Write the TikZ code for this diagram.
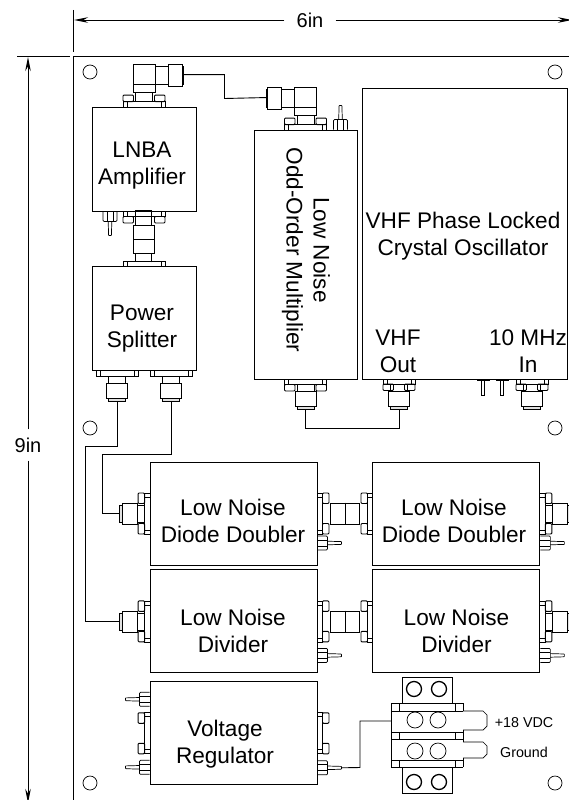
\documentclass[tikz,border=0pt]{standalone}
\usepackage{fontspec}
\setmainfont{Liberation Sans}
\usetikzlibrary{positioning,calc,arrows.meta}
\tikzstyle{part} = [line width=0.7pt]
\tikzstyle{wire} = [line width=0.9pt]
\tikzstyle{dimline} = [line width=0.9pt,-{Stealth[length=14pt,width=5.5pt]}]
\tikzset{
  pics/flange/.style={code={
    \draw[part] ({-#1},0) -- ({-#1},-5) -- ({#1},-5) -- ({#1},0);
    \draw[part] ({-#1+4},0) -- ({-#1+4},-5) ({#1-4},0) -- ({#1-4},-5);
  }},
  pics/bolts/.style={code={
    \draw[part,rounded corners=1pt,line width=0.9pt] ({-#1},-5) rectangle ({-#1+10.5},-11.5);
    \draw[part,rounded corners=1pt,line width=0.9pt] ({#1},-5) rectangle ({#1-10.5},-11.5);
  }},
  pics/sma/.style={code={
    \draw[part] (-8.5,-5) rectangle (8.5,-12);
    \draw[part] (-10.5,-12) rectangle (10.5,-27);
    \draw[part,fill=black!12] (-8.5,-27) rectangle (8.5,-30);
    \coordinate (-tip) at (0,-30);
  }},
  pics/elbow/.style={code={
    \draw[part] (-8.5,-5) rectangle (8.5,-14);
    \draw[part] (-11,-14) -- (-11,-42) -- (11,-42) -- (11,-14) -- cycle;
    \draw[part] (-11,-22) -- (11,-22);
    \draw[part] (11,-40) rectangle (24,-22);
    \draw[part] (24,-42) rectangle (38,-20);
    \draw[part,fill=black!12] (38,-40) rectangle (39.5,-22);
    \coordinate (-tip) at (39.5,-32);
  }},
  pics/stub/.style={code={
    \draw[part,rounded corners=1pt] (-7,0) -- (-7,-10) -- (7,-10) -- (7,0);
    \draw[part] (-3,0) -- (-3,-10) (3,0) -- (3,-10);
    \draw[part,rounded corners=0.5pt] (-1.8,-10) -- (-1.4,-24) -- (1.4,-24) -- (1.8,-10);
    \coordinate (-tip) at (0,-24);
  }},
  pics/thinpin/.style={code={
    \draw[part] (-6,0) -- (-6,-1.5) -- (6,-1.5) -- (6,0);
    \draw[part] (-1.7,-1.5) -- (-1.7,-16) -- (1.7,-16) -- (1.7,-1.5);
  }}
}

\begin{document}
\begin{tikzpicture}[x=1pt,y=-1pt,
  node distance = 4pt,
  modbox/.style = {draw,line width=0.9pt,inner sep=0pt},
  rowbox/.style = {modbox,minimum width=167pt,minimum height=103pt},
  sqbox/.style = {modbox,minimum width=104pt,minimum height=104pt},
  lbl/.style = {inner sep=0pt,align=center,font=\fontsize{22.6}{27}\selectfont},
  dimlbl/.style = {inner sep=0pt,fill=white,font=\fontsize{20}{24}\selectfont},
  termlbl/.style = {inner sep=0pt,font=\fontsize{14.3}{16}\selectfont},
  hole/.style = {circle,draw,line width=0.7pt,inner sep=0pt,minimum size=14pt},
  bighole/.style = {circle,draw,line width=1.3pt,inner sep=0pt,minimum size=15pt},
  linkbox/.style = {draw,line width=0.7pt,inner sep=0pt,minimum width=29pt,minimum height=21pt}]
 \useasboundingbox (0,0) rectangle (569,800);
 \clip (0,0) rectangle (569,800);

 % plate and dimensions
 \draw[line width=0.9pt] (73,800) -- (73,56) -- (569,56);
 \draw[line width=0.9pt] (73,10) -- (73,52);
 \draw[line width=0.9pt] (17,56) -- (70,56);
 \node[dimlbl] (six) at (310,20) {6in};
 \node[dimlbl] (nine) at (28,445) {9in};
 \coordinate (sixl) at (74,20);
 \coordinate (sixr) at (572,20);
 \coordinate (ninet) at (28,57);
 \coordinate (nineb) at (28,803);
 \draw[dimline] ([xshift=-12pt]six.west) -- (sixl);
 \draw[dimline] ([xshift=12pt]six.east) -- (sixr);
 \draw[dimline] ([yshift=8pt]nine.north) -- (ninet);
 \draw[dimline] ([yshift=-8pt]nine.south) -- (nineb);
 \foreach \hx/\hy/\hn in {90/72/a,555/72/b,90/428/c,555/428/d,90/783/e,555/783/f}
  \node[hole] (hole\hn) at (\hx,\hy) {};

 % modules
 \node[sqbox] (lnba) at (144,159) {};
 \node[sqbox,below=55pt of lnba] (split) {};
 \node[modbox,minimum width=103pt,minimum height=249pt] (mult) at (305.5,254.5) {};
 \node[modbox,minimum width=205pt,minimum height=291pt] (osc) at (464.5,233.5) {};
 \node[rowbox] (dbla) at (233.5,513.5) {};
 \node[rowbox,right=55pt of dbla] (dblb) {};
 \node[rowbox,below=of dbla] (diva) {};
 \node[rowbox,below=of dblb] (divb) {};
 \node[rowbox,below=8pt of diva] (volt) {};

 % module texts
 \node[lbl] (lnbatxt) at (142,165.5) {LNBA\\Amplifier};
 \node[lbl] (splittxt) at (142,328.5) {Power\\Splitter};
 \node[lbl,rotate=-90] (multtxt) at (306,250) {Low Noise\\Odd-Order Multiplier};
 \node[lbl] (osctxt) at (463,236) {VHF Phase Locked\\Crystal Oscillator};
 \node[lbl] (vhfout) at (398,351) {VHF\\Out};
 \node[lbl] (tenin) at (528,351) {10 MHz\\In};
 \node[lbl] (dblatxt) at (233,520.5) {Low Noise\\Diode Doubler};
 \node[lbl] (dblbtxt) at (454,520.5) {Low Noise\\Diode Doubler};
 \node[lbl] (divatxt) at (233,631) {Low Noise\\Divider};
 \node[lbl] (divbtxt) at (456.5,631) {Low Noise\\Divider};
 \node[lbl] (volttxt) at (225,744) {Voltage\\Regulator};

 % top elbows
 \pic at (lnba.north) {flange=21};
 \pic at (lnba.north) {bolts=21};
 \pic (lnbain) at (lnba.north) {elbow};
 \pic at (mult.north) {flange=21};
 \pic at (mult.north) {bolts=21};
 \pic[xscale=-1] (multin) at (mult.north) {elbow};
 \pic at ([xshift=35pt]mult.north) {stub};

 % lnba to splitter
 \pic[rotate=180] at ([xshift=-34pt]lnba.south) {stub};
 \pic[rotate=180] at (lnba.south) {flange=21};
 \pic[rotate=180] at (lnba.south) {bolts=21};
 \pic at (split.north) {flange=21};
 \node[linkbox,minimum width=21pt,minimum height=28pt] (lnklnba) at (144,239) {};
 \draw[part] (lnklnba.north west) ++(2.5,0) -- ++(0,-14) -- ++(16,0) -- ++(0,14);
 \draw[part] (lnklnba.south west) ++(2.5,0) -- ++(0,9) ++(16,0) -- ++(0,-9);
 \draw[part] (lnklnba.west) -- (lnklnba.east);

 % splitter outputs
 \pic[rotate=180] at ([xshift=-27pt]split.south) {flange=21};
 \pic[rotate=180] at ([xshift=27pt]split.south) {flange=21};
 \pic[rotate=180] (splita) at ([xshift=-27pt]split.south) {sma};
 \pic[rotate=180] (splitb) at ([xshift=27pt]split.south) {sma};

 % multiplier and oscillator outputs
 \pic[rotate=180] at (mult.south) {flange=21};
 \pic[rotate=180] at (mult.south) {bolts=21};
 \pic[rotate=180] (multout) at (mult.south) {sma};
 \coordinate (vhfpt) at (399,379);
 \coordinate (tenpt) at (532,379);
 \pic[rotate=180] at (vhfpt) {flange=16};
 \pic[rotate=180] at (vhfpt) {bolts=16};
 \pic[rotate=180] (vhfcon) at (vhfpt) {sma};
 \pic[rotate=180] at (tenpt) {flange=16};
 \pic[rotate=180] at (tenpt) {bolts=16};
 \pic[rotate=180] (tencon) at (tenpt) {sma};
 \pic[rotate=180] at (483,379) {thinpin};
 \pic[rotate=180] at (502,379) {thinpin};

 % doubler and divider rows
 \foreach \mbox in {dbla,diva,volt} {
  \pic[rotate=90] at (\mbox.west) {flange=20.5};
  \pic[rotate=90] at (\mbox.west) {bolts=20.5};
  \pic[rotate=-90] at (\mbox.east) {flange=20.5};
  \pic[rotate=-90] at (\mbox.east) {bolts=20.5};
 }
 \foreach \mbox in {dblb,divb} {
  \pic[rotate=90] at (\mbox.west) {flange=20.5};
  \pic[rotate=90] at (\mbox.west) {bolts=20.5};
  \pic[rotate=-90] at (\mbox.east) {flange=20.5};
  \pic[rotate=-90] at (\mbox.east) {bolts=20.5};
  \pic[rotate=-90] at (\mbox.east) {sma};
 }
 \pic[rotate=90] (dblain) at (dbla.west) {sma};
 \pic[rotate=90] (divain) at (diva.west) {sma};
 \foreach \mbox in {dbla,dblb}
  \pic[rotate=-90] at ([yshift=-29.5pt]\mbox.east) {stub};
 \foreach \mbox in {diva,divb}
  \pic[rotate=-90] at ([yshift=-34pt]\mbox.east) {stub};
 \pic[rotate=-90] (voltpin) at ([yshift=-34.5pt]volt.east) {stub};
 \pic[rotate=90] at ([yshift=34pt]volt.west) {stub};
 \pic[rotate=90] at ([yshift=-34pt]volt.west) {stub};
 \node[linkbox] (lnkdbl) at ($(dbla.east)!.5!(dblb.west)$) {};
 \node[linkbox] (lnkdiv) at ($(diva.east)!.5!(divb.west)$) {};
 \draw[part] (lnkdbl.north) -- (lnkdbl.south);
 \draw[part] (lnkdiv.north) -- (lnkdiv.south);

 % terminal block
 \draw[part] (402,703) |- (452,677) -- (452,703);
 \draw[part] (402,767) |- (452,793) -- (452,767);
 \draw[part] (463,703) -- (391,703) -- (391,767) -- (463,767);
 \draw[part] (391,711) -- (463,711) (391,732) -- (463,732) (391,739) -- (463,739) (391,760) -- (463,760);
 \draw[part] (399,703) -- (399,711) (399,732) -- (399,739) (399,760) -- (399,767);
 \draw[part] (455,703) -- (455,711) (455,732) -- (455,739) (455,760) -- (455,767);
 \draw[part] (463,703) -- (463,711) (463,730) -- (463,742) (463,758) -- (463,767);
 \draw[part] (463,711) -- (483,711) -- (487,715) -- (487,726) -- (483,730) -- (463,730);
 \draw[part] (463,742) -- (483,742) -- (487,746) -- (487,754) -- (483,758) -- (463,758);
 \foreach \hx/\hy/\hn in {414/689/a,439/689/b,414/782/c,439/782/d}
  \node[bighole] (term\hn) at (\hx,\hy) {};
 \foreach \hx/\hy/\hn in {415/720/e,438/720/f,415/751/g,438/751/h}
  \node[hole,minimum size=16pt] (term\hn) at (\hx,\hy) {};
 \coordinate (termin) at (391,721);
 \node[termlbl] (vdc) at (524,723) {+18 VDC};
 \node[termlbl] (gnd) at (524,752) {Ground};

 % coax runs
 \draw[wire] (lnbain-tip) -| (224.5,98.5) -- (multin-tip);
 \draw[wire] (multout-tip) |- (399,428) -- (vhfcon-tip);
 \draw[wire] (splitb-tip) |- (102,454) |- (dblain-tip);
 \draw[wire] (splita-tip) |- (85,446) |- (divain-tip);
 \draw[wire] (voltpin-tip) -- (360,767.5) |- (termin);
\end{tikzpicture}
\end{document}
